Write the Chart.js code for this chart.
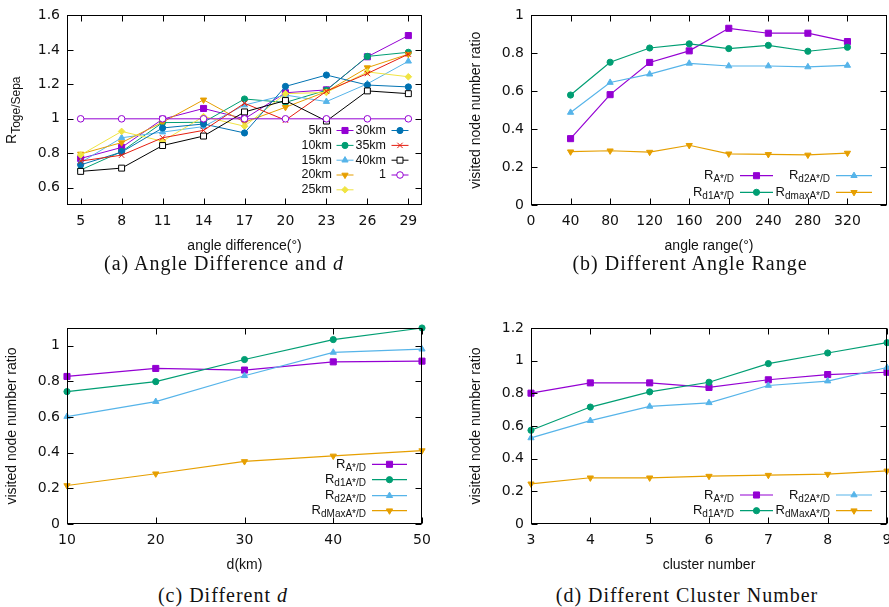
<!DOCTYPE html>
<html>
<head>
<meta charset="utf-8">
<script src="https://cdn.jsdelivr.net/npm/chart.js@4.4.1/dist/chart.umd.min.js"></script>
<style>
  html, body { margin: 0; padding: 0; background: #fff; }
  body { width: 889px; height: 607px; position: relative; overflow: hidden; }
  canvas { position: absolute; }
  .cap {
    position: absolute; white-space: nowrap; color: #111;
    font-family: "Liberation Serif", serif; font-size: 20px; letter-spacing: 1px;
    transform: translate(-50%, -50%);
  }
</style>
</head>
<body>
<canvas id="chartA" width="445" height="256" style="left:0;top:0"></canvas>
<canvas id="chartB" width="460" height="256" style="left:445px;top:0"></canvas>
<canvas id="chartC" width="445" height="276" style="left:0;top:300px"></canvas>
<canvas id="chartD" width="460" height="276" style="left:445px;top:300px"></canvas>

<div class="cap" style="left:224px;top:263px">(a) Angle Difference and <i>d</i></div>
<div class="cap" style="left:690px;top:263px">(b) Different Angle Range</div>
<div class="cap" style="left:223px;top:595px">(c) Different <i>d</i></div>
<div class="cap" style="left:687px;top:595px">(d) Different Cluster Number</div>

<script>
// (a) time ratio against angle difference, one line per d
const angleDiff = [5, 8, 11, 14, 17, 20, 23, 26, 29];
const dLabels = ['5km', '10km', '15km', '20km', '25km', '30km', '35km', '40km', '1'];
const ratio5km  = [0.77, 0.834, 0.998, 1.06, 1.0, 1.151, 1.168, 1.36, 1.483];
const ratio10km = [0.703, 0.81, 0.978, 0.98, 1.115, 1.095, 1.166, 1.362, 1.386];
const ratio15km = [0.746, 0.89, 0.923, 0.955, 1.08, 1.138, 1.10, 1.203, 1.334];
const ratio20km = [0.796, 0.862, 0.98, 1.11, 0.98, 1.067, 1.158, 1.297, 1.375];
const ratio25km = [0.79, 0.927, 0.87, 1.013, 0.957, 1.146, 1.153, 1.272, 1.244];
const ratio30km = [0.733, 0.807, 0.947, 0.97, 0.918, 1.188, 1.254, 1.196, 1.185];
const ratio35km = [0.755, 0.789, 0.89, 0.933, 1.09, 0.992, 1.16, 1.263, 1.375];
const ratio40km = [0.695, 0.714, 0.845, 0.90, 1.04, 1.106, 0.987, 1.162, 1.146];
const ratioOne  = [1, 1, 1, 1, 1, 1, 1, 1, 1];

// (b) visited node ratio against angle range
const angleRange = [40, 80, 120, 160, 200, 240, 280, 320];
const rangeA    = [0.35, 0.582, 0.752, 0.813, 0.932, 0.906, 0.906, 0.862];
const rangeD1   = [0.58, 0.753, 0.828, 0.85, 0.825, 0.842, 0.811, 0.832];
const rangeD2   = [0.488, 0.646, 0.69, 0.747, 0.733, 0.733, 0.728, 0.736];
const rangeDmax = [0.281, 0.286, 0.279, 0.315, 0.27, 0.267, 0.264, 0.274];

// (c) visited node ratio against d
const dKm      = [10, 20, 30, 40, 50];
const distA    = [0.828, 0.873, 0.864, 0.91, 0.914];
const distD1   = [0.743, 0.799, 0.923, 1.035, 1.10];
const distD2   = [0.603, 0.687, 0.832, 0.963, 0.981];
const distDmax = [0.216, 0.282, 0.351, 0.382, 0.412];

// (d) visited node ratio against cluster number
const clusters    = [3, 4, 5, 6, 7, 8, 9];
const clusterA    = [0.801, 0.864, 0.864, 0.836, 0.883, 0.915, 0.929];
const clusterD1   = [0.574, 0.716, 0.809, 0.868, 0.982, 1.047, 1.11];
const clusterD2   = [0.527, 0.633, 0.72, 0.742, 0.848, 0.875, 0.958];
const clusterDmax = [0.246, 0.283, 0.283, 0.293, 0.299, 0.305, 0.325];

// series names, "_{...}" is a subscript
const rangeLabels = ['R_{A*/D}', 'R_{d1A*/D}', 'R_{d2A*/D}', 'R_{dmaxA*/D}'];
const distLabels  = ['R_{A*/D}', 'R_{d1A*/D}', 'R_{d2A*/D}', 'R_{dMaxA*/D}'];

// tick values
const angleDiffTicks = [5, 8, 11, 14, 17, 20, 23, 26, 29];
const timeRatioTicks = [0.6, 0.8, 1, 1.2, 1.4, 1.6];
const angleRangeTicks = [0, 40, 80, 120, 160, 200, 240, 280, 320];
const nodeRatioTicks = [0, 0.2, 0.4, 0.6, 0.8, 1];
const nodeRatioTicks12 = [0, 0.2, 0.4, 0.6, 0.8, 1, 1.2];
const dKmTicks = [10, 20, 30, 40, 50];
const clusterTicks = [3, 4, 5, 6, 7, 8, 9];

// gnuplot-like colours and point types
const C = {
  purple: '#9400d3', green: '#009e73', sky: '#56b4e9', orange: '#e69f00',
  yellow: '#f0e442', blue: '#0072b2', red: '#e51e10', black: '#000000'
};
const dStyles = [
  { color: C.purple, pt: 'rect', r: 4.3 },
  { color: C.green, pt: 'circle', r: 3.1 },
  { color: C.sky, pt: 'triangle', r: 3.6 },
  { color: C.orange, pt: 'triangle', rot: 180, r: 3.6 },
  { color: C.yellow, pt: 'rectRot', r: 3.3 },
  { color: C.blue, pt: 'circle', r: 3.1 },
  { color: C.red, pt: 'crossRot', r: 3.8 },
  { color: C.black, pt: 'rect', r: 4.2, open: true },
  { color: C.purple, pt: 'circle', r: 3.3, open: true }
];
const ratioStyles = dStyles.slice(0, 4);

const SANS = '"Liberation Sans", Arial, sans-serif';
const fmt = v => String(Math.round(v * 100) / 100);

function drawRich(ctx, text, x, y, align, mainSize, subSize) {
  const m = text.match(/^(.*?)_\{(.*)\}$/);
  const main = m ? m[1] : text;
  const sub = m ? m[2] : '';
  ctx.font = mainSize + 'px ' + SANS;
  const w1 = ctx.measureText(main).width;
  ctx.font = subSize + 'px ' + SANS;
  const w2 = sub ? ctx.measureText(sub).width : 0;
  let x0 = x;
  if (align === 'right') x0 = x - w1 - w2;
  if (align === 'center') x0 = x - (w1 + w2) / 2;
  ctx.textAlign = 'left';
  ctx.textBaseline = 'middle';
  ctx.font = mainSize + 'px ' + SANS;
  ctx.fillText(main, x0, y);
  if (sub) {
    ctx.font = subSize + 'px ' + SANS;
    ctx.fillText(sub, x0 + w1, y + subSize * 0.4);
  }
}

function markPoint(ctx, ds, x, y) {
  ctx.fillStyle = ds.pointBackgroundColor;
  ctx.strokeStyle = ds.pointBorderColor;
  ctx.lineWidth = ds.pointBorderWidth;
  Chart.helpers.drawPoint(ctx, {
    pointStyle: ds.pointStyle, rotation: ds.pointRotation,
    radius: ds.pointRadius, borderWidth: ds.pointBorderWidth
  }, x, y);
}

// frame with inward mirrored ticks, axis titles and the key
const gnuFrame = {
  id: 'gnuFrame',
  afterDatasetsDraw(chart, args, opts) {
    const { ctx, chartArea: a, scales: { x, y } } = chart;
    const L = Math.round(a.left) + 0.5, R = Math.round(a.right) - 0.5;
    const T = Math.round(a.top) + 0.5, B = Math.round(a.bottom) - 0.5;
    ctx.save();
    ctx.strokeStyle = '#000';
    ctx.lineWidth = 1;
    ctx.beginPath();
    x.ticks.forEach(t => {
      const px = Math.round(x.getPixelForValue(t.value)) + 0.5;
      ctx.moveTo(px, B); ctx.lineTo(px, B - 6);
      ctx.moveTo(px, T); ctx.lineTo(px, T + 6);
    });
    y.ticks.forEach(t => {
      const py = Math.round(y.getPixelForValue(t.value)) + 0.5;
      ctx.moveTo(L, py); ctx.lineTo(L + 6, py);
      ctx.moveTo(R, py); ctx.lineTo(R - 6, py);
    });
    ctx.stroke();
    ctx.strokeRect(L, T, R - L, B - T);

    // axis titles
    ctx.fillStyle = '#111';
    drawRich(ctx, opts.xTitle, (a.left + a.right) / 2, a.bottom + 41, 'center', 14, 11);
    ctx.save();
    ctx.translate(a.left - 55, (a.top + a.bottom) / 2);
    ctx.rotate(-Math.PI / 2);
    drawRich(ctx, opts.yTitle, 0, 0, 'center', 14, 12);
    ctx.restore();

    // key: label, then line sample with its point
    const k = opts.key;
    chart.data.datasets.forEach((ds, i) => {
      const col = k.cols[Math.floor(i / k.rows.length)];
      const ry = a.bottom + k.rows[i % k.rows.length];
      ctx.fillStyle = '#111';
      drawRich(ctx, ds.label, a.right + col.labelRight, ry, 'right', k.size, k.subSize);
      const x0 = a.right + col.sampleL, x1 = a.right + col.sampleR;
      ctx.strokeStyle = ds.borderColor;
      ctx.lineWidth = ds.borderWidth;
      ctx.beginPath();
      ctx.moveTo(x0, ry); ctx.lineTo(x1, ry);
      ctx.stroke();
      markPoint(ctx, ds, (x0 + x1) / 2, ry);
    });
    ctx.restore();
  }
};

function makeChart(id, cfg) {
  const datasets = cfg.series.map((values, i) => {
    const st = cfg.styles[i];
    return {
      label: cfg.labels[i],
      data: cfg.xs.map((xv, j) => ({ x: xv, y: values[j] })),
      borderColor: st.color,
      borderWidth: cfg.lineWidth,
      backgroundColor: st.color,
      pointStyle: st.pt,
      pointRotation: st.rot || 0,
      pointRadius: st.r,
      pointBackgroundColor: st.open ? '#fff' : st.color,
      pointBorderColor: st.color,
      pointBorderWidth: 1,
      tension: 0,
      fill: false,
      clip: false,
      order: -i
    };
  });
  const tickFont = { family: '"DejaVu Sans", sans-serif', size: 14 };
  return new Chart(document.getElementById(id), {
    type: 'line',
    data: { datasets },
    options: {
      responsive: false,
      animation: false,
      devicePixelRatio: 1,
      layout: { padding: { top: cfg.padTop, right: cfg.padRight, left: 0, bottom: 0 } },
      plugins: {
        legend: { display: false },
        tooltip: { enabled: false },
        gnuFrame: { xTitle: cfg.xTitle, yTitle: cfg.yTitle, key: cfg.key }
      },
      scales: {
        x: {
          type: 'linear', min: cfg.xMin, max: cfg.xMax,
          grid: { display: false, drawTicks: false },
          border: { display: false },
          ticks: { autoSkip: false, maxRotation: 0, padding: 8, color: '#111', font: tickFont, callback: fmt },
          afterBuildTicks: s => { s.ticks = cfg.xTicks.map(v => ({ value: v })); },
          afterFit: s => { s.height = cfg.xAxisH; }
        },
        y: {
          type: 'linear', min: cfg.yMin, max: cfg.yMax,
          grid: { display: false, drawTicks: false },
          border: { display: false },
          ticks: { autoSkip: false, padding: 7, color: '#111', font: tickFont, callback: fmt },
          afterBuildTicks: s => { s.ticks = cfg.yTicks.map(v => ({ value: v })); },
          afterFit: s => { s.width = cfg.yAxisW; }
        }
      }
    },
    plugins: [gnuFrame]
  });
}

const keyTwoCols = [
  { labelRight: -153, sampleL: -147, sampleR: -114 },
  { labelRight: -57, sampleL: -51, sampleR: -15 }
];

makeChart('chartA', {
  xs: angleDiff,
  series: [ratio5km, ratio10km, ratio15km, ratio20km, ratio25km, ratio30km, ratio35km, ratio40km, ratioOne],
  labels: dLabels, styles: dStyles, lineWidth: 1,
  xMin: 4, xMax: 30, xTicks: angleDiffTicks,
  yMin: 0.5, yMax: 1.6, yTicks: timeRatioTicks,
  xTitle: 'angle difference(°)', yTitle: 'R_{Toge/Sepa}',
  padTop: 9, padRight: 23, yAxisW: 67, xAxisH: 51,
  key: {
    size: 12.5, subSize: 10,
    rows: [-74.5, -59.6, -44.8, -30, -15.2],
    cols: [
      { labelRight: -90, sampleL: -85.5, sampleR: -68.5 },
      { labelRight: -36, sampleL: -30.5, sampleR: -13.5 }
    ]
  }
});

makeChart('chartB', {
  xs: angleRange,
  series: [rangeA, rangeD1, rangeD2, rangeDmax],
  labels: rangeLabels, styles: ratioStyles, lineWidth: 1.2,
  xMin: 0, xMax: 360, xTicks: angleRangeTicks,
  yMin: 0, yMax: 1, yTicks: nodeRatioTicks,
  xTitle: 'angle range(°)', yTitle: 'visited node number ratio',
  padTop: 9, padRight: 18, yAxisW: 86, xAxisH: 51,
  key: { size: 13, subSize: 10, rows: [-29.3, -12.7], cols: keyTwoCols }
});

makeChart('chartC', {
  xs: dKm,
  series: [distA, distD1, distD2, distDmax],
  labels: distLabels, styles: ratioStyles, lineWidth: 1.2,
  xMin: 10, xMax: 50, xTicks: dKmTicks,
  yMin: 0, yMax: 1.1, yTicks: nodeRatioTicks,
  xTitle: 'd(km)', yTitle: 'visited node number ratio',
  padTop: 28, padRight: 23, yAxisW: 67, xAxisH: 52,
  key: {
    size: 13, subSize: 10,
    rows: [-59.7, -44.3, -28.3, -13.3],
    cols: [{ labelRight: -56, sampleL: -50, sampleR: -15 }]
  }
});

makeChart('chartD', {
  xs: clusters,
  series: [clusterA, clusterD1, clusterD2, clusterDmax],
  labels: distLabels, styles: ratioStyles, lineWidth: 1.2,
  xMin: 3, xMax: 9, xTicks: clusterTicks,
  yMin: 0, yMax: 1.2, yTicks: nodeRatioTicks12,
  xTitle: 'cluster number', yTitle: 'visited node number ratio',
  padTop: 28, padRight: 18, yAxisW: 86, xAxisH: 52,
  key: { size: 13, subSize: 10, rows: [-29, -13.3], cols: keyTwoCols }
});
</script>
</body>
</html>
